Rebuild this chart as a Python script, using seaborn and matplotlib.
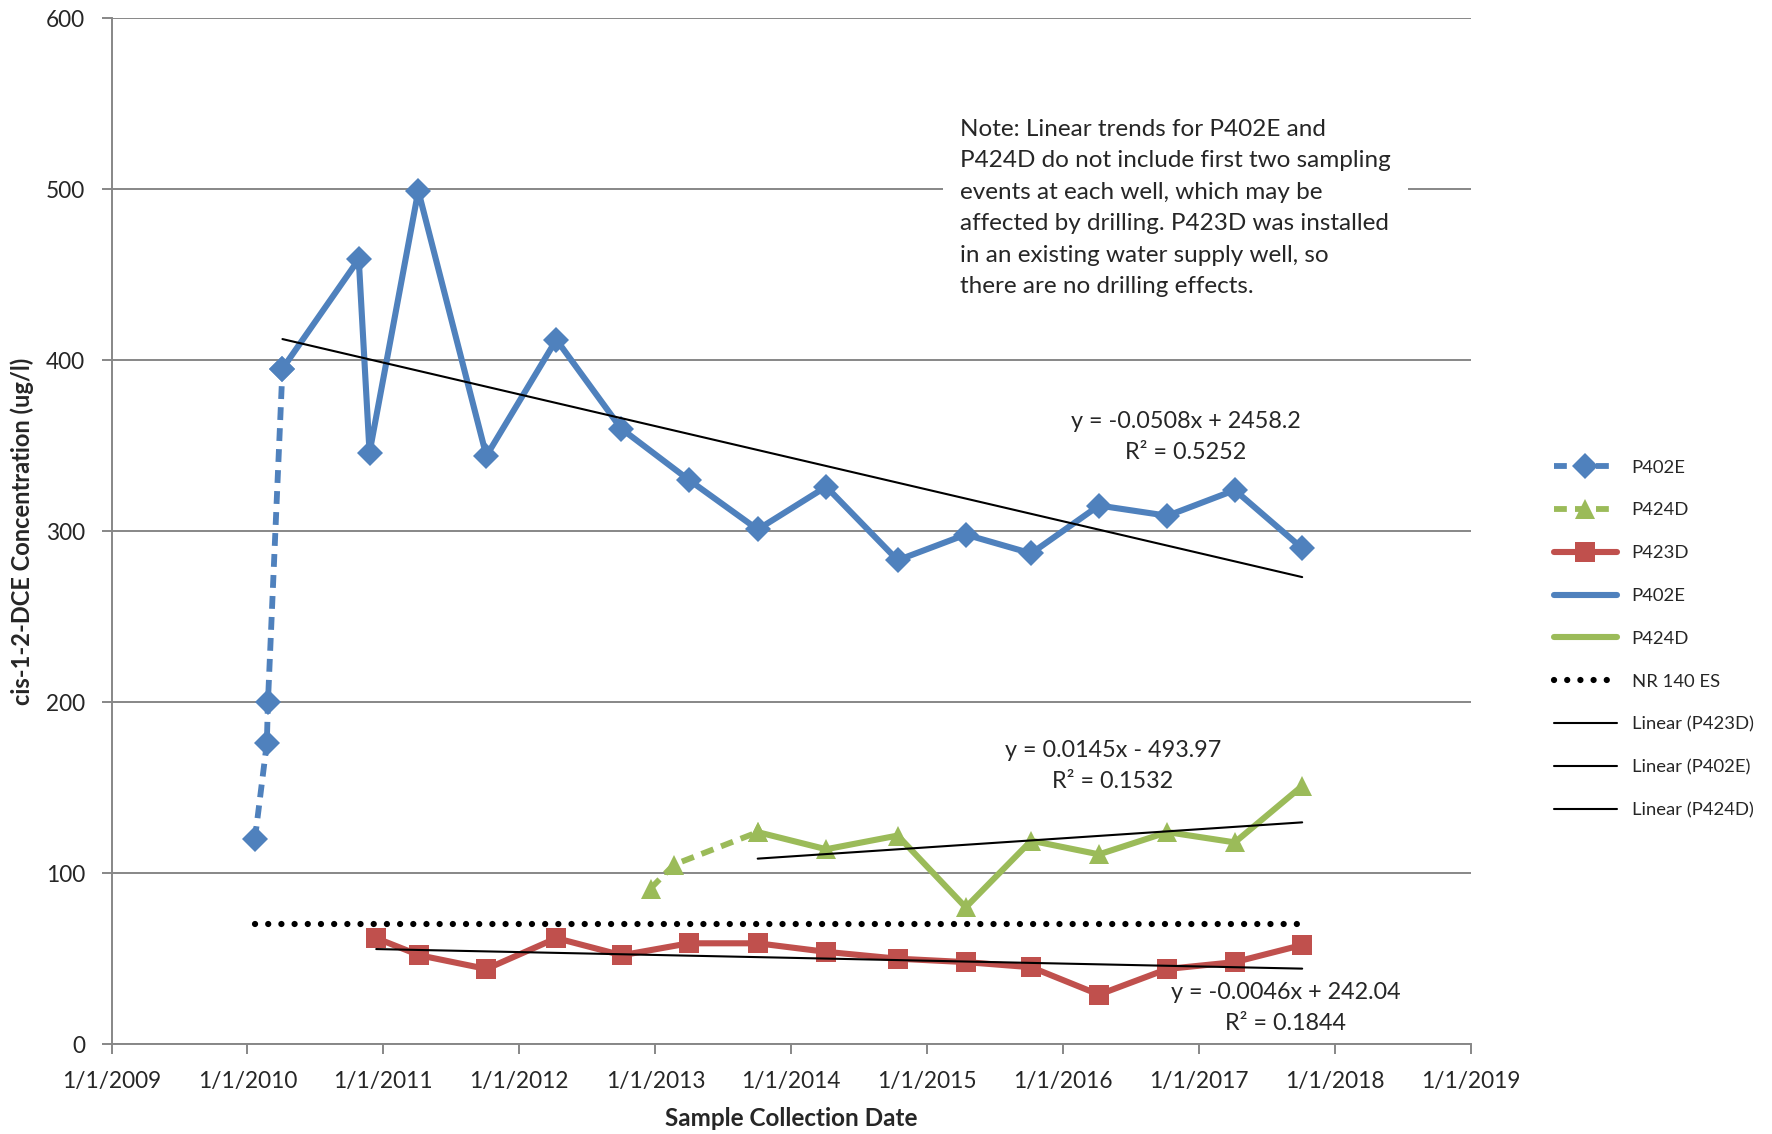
import pandas as pd
import numpy as np
import seaborn as sns
import matplotlib.pyplot as plt
import matplotlib.dates as mdates
from matplotlib.ticker import FuncFormatter

# sampling data
p402e_early_dates = ['2010-01-21', '2010-02-22', '2010-02-25', '2010-04-05']
p402e_early = [120, 176, 200, 395]
p402e_dates = ['2010-04-05', '2010-10-27', '2010-11-25', '2011-04-05', '2011-10-05', '2012-04-10',
               '2012-10-01', '2013-04-01', '2013-10-03', '2014-04-05', '2014-10-14', '2015-04-15',
               '2015-10-08', '2016-04-07', '2016-10-08', '2017-04-07', '2017-10-05']
p402e = [395, 459, 346, 499, 344, 412, 360, 330, 301, 326, 283, 298, 287, 315, 309, 324, 290]

p424d_early_dates = ['2012-12-19', '2013-02-20', '2013-10-03']
p424d_early = [91, 105, 124]
p424d_dates = ['2013-10-03', '2014-04-05', '2014-10-14', '2015-04-15', '2015-10-08', '2016-04-07',
               '2016-10-08', '2017-04-07', '2017-10-05']
p424d = [124, 114, 122, 80, 119, 111, 124, 118, 151]

p423d_dates = ['2010-12-13', '2011-04-08', '2011-10-05', '2012-04-10', '2012-10-03', '2013-04-01',
               '2013-10-03', '2014-04-05', '2014-10-14', '2015-04-15', '2015-10-08', '2016-04-07',
               '2016-10-08', '2017-04-07', '2017-10-05']
p423d = [62, 52, 44, 62, 52, 59, 59, 54, 50, 48, 45, 29, 44, 48, 58]

nr140_dates = ['2010-01-21', '2017-10-05']
nr140 = [70, 70]

# excel trendlines (x = excel day serial)
trend_names = ['Linear (P423D)', 'Linear (P402E)', 'Linear (P424D)']
trend_slope = [-0.0046, -0.0508, 0.0145]
trend_icpt = [242.04, 2458.2, -493.97]
trend_r2 = [0.1844, 0.5252, 0.1532]
trend_start = ['2010-12-13', '2010-04-05', '2013-10-03']
trend_end = '2017-10-05'

note = ("Note: Linear trends for P402E and\n"
        "P424D do not include first two sampling\n"
        "events at each well, which may be\n"
        "affected by drilling. P423D was installed\n"
        "in an existing water supply well, so\n"
        "there are no drilling effects.")

blue = '#4F81BD'
green = '#9BBB59'
red = '#C0504D'
grey = '#878787'

sns.set_style('white')
plt.rcParams['font.family'] = ['Lato', 'DejaVu Sans']

fig = plt.figure(figsize=(17.72, 11.34), dpi=100)
ax = fig.add_axes([0.063, 0.0792, 0.767, 0.9048])

td = lambda l: pd.to_datetime(l)

sns.lineplot(x=td(p402e_early_dates), y=p402e_early, ax=ax, color=blue, linewidth=4.2,
             linestyle=(0, (2.2, 1.4)), marker='D', markersize=13.5, markeredgewidth=0,
             label='P402E', zorder=3)
sns.lineplot(x=td(p424d_early_dates), y=p424d_early, ax=ax, color=green, linewidth=4.2,
             linestyle=(0, (2.2, 1.4)), marker='^', markersize=15, markeredgewidth=0,
             label='P424D', zorder=3)
sns.lineplot(x=td(p423d_dates), y=p423d, ax=ax, color=red, linewidth=4.4,
             marker='s', markersize=14, markeredgewidth=0, label='P423D', zorder=3)
sns.lineplot(x=td(p402e_dates), y=p402e, ax=ax, color=blue, linewidth=4.4, label='P402E', zorder=3)
sns.lineplot(x=td(p424d_dates), y=p424d, ax=ax, color=green, linewidth=4.4, label='P424D', zorder=3)
# markers on the solid series (no legend entry)
sns.lineplot(x=td(p402e_dates), y=p402e, ax=ax, color=blue, linestyle='none',
             marker='D', markersize=13.5, markeredgewidth=0, zorder=3)
sns.lineplot(x=td(p424d_dates), y=p424d, ax=ax, color=green, linestyle='none',
             marker='^', markersize=15, markeredgewidth=0, zorder=3)
sns.lineplot(x=td(nr140_dates), y=nr140, ax=ax, color='black', linewidth=4.5,
             linestyle=(0, (0.01, 2.1)), dash_capstyle='round', label='NR 140 ES', zorder=3)

base = pd.Timestamp('1899-12-30')
for name, m, b, s in zip(trend_names, trend_slope, trend_icpt, trend_start):
    xd = td([s, trend_end])
    xs = np.array([(d - base).days for d in xd])
    sns.lineplot(x=xd, y=m * xs + b, ax=ax, color='black', linewidth=1.5, label=name, zorder=4)

# equation labels
eq_pos = [(0.8637, 0.0352), (0.7905, 0.5915), (0.7365, 0.271)]
for (px, py), m, b, r2 in zip(eq_pos, trend_slope, trend_icpt, trend_r2):
    sign = '-' if b < 0 else '+'
    txt = f"y = {m}x {sign} {abs(b)}\nR² = {r2}"
    ax.text(px, py, txt, transform=ax.transAxes, ha='center', va='center',
            fontsize=16.8, linespacing=1.57, zorder=5)

ax.text(0.6243, 0.902, note, transform=ax.transAxes, ha='left', va='top', fontsize=17.5,
        linespacing=1.62, zorder=5,
        bbox=dict(facecolor='white', edgecolor='none', pad=12))

ax.set_xlim(pd.Timestamp('2009-01-01'), pd.Timestamp('2019-01-01'))
ax.set_ylim(0, 600)
ax.set_yticks(range(0, 601, 100))
ax.xaxis.set_major_locator(mdates.YearLocator())
ax.xaxis.set_major_formatter(FuncFormatter(
    lambda v, p: '{d.month}/{d.day}/{d.year}'.format(d=mdates.num2date(v))))

ax.yaxis.grid(True, color=grey, linewidth=1.4)
ax.xaxis.grid(False)
for s in ['top', 'right']:
    ax.spines[s].set_visible(False)
for s in ['left', 'bottom']:
    ax.spines[s].set_color(grey)
    ax.spines[s].set_linewidth(1.4)
ax.tick_params(axis='both', direction='out', length=7, width=1.4, color=grey,
               labelsize=16.3, pad=12, bottom=True, left=True)

ax.set_xlabel('Sample Collection Date', fontsize=17.5, fontweight='bold')
ax.set_ylabel('cis-1-2-DCE Concentration (ug/l)', fontsize=17, fontweight='bold')
ax.xaxis.set_label_coords(0.5, -0.061)
ax.yaxis.set_label_coords(-0.057, 0.5)

h, l = ax.get_legend_handles_labels()
ax.legend(h, l, loc='center left', bbox_to_anchor=(0.877, 0.4365), bbox_transform=fig.transFigure,
          frameon=False, fontsize=13.3, handlelength=3.4, handletextpad=0.8, labelspacing=1.45,
          borderaxespad=0, borderpad=0, numpoints=1)

plt.savefig('out.png')
